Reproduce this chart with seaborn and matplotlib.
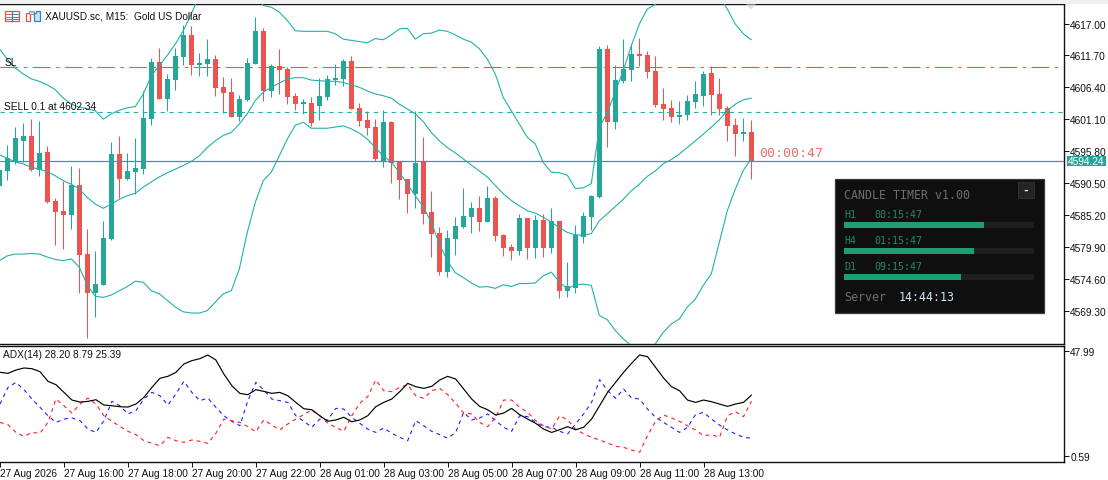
import numpy as np
import seaborn as sns
import matplotlib.pyplot as plt
from matplotlib.patches import Rectangle, Polygon

# candles, oldest first (one bar per 15 minutes)
opens = [4590.06, 4592.50, 4593.94, 4597.48, 4598.31, 4592.67, 4595.66, 4587.52, 4585.85, 4585.19,
         4590.17, 4578.71, 4572.23, 4573.56, 4581.20, 4595.32, 4591.17, 4592.33, 4592.83, 4601.14,
         4610.61, 4604.46, 4607.61, 4611.44, 4615.09, 4610.11, 4610.27, 4611.10, 4606.45, 4605.62,
         4601.47, 4604.29, 4610.27, 4615.75, 4605.79, 4609.94, 4609.44, 4604.96, 4603.63, 4603.79,
         4603.30, 4604.79, 4607.61, 4607.78, 4610.77, 4602.96, 4600.97, 4599.81, 4594.16, 4600.64,
         4593.99, 4591.17, 4588.68, 4593.99, 4585.69, 4582.20, 4575.72, 4581.20, 4583.20, 4584.86,
         4586.35, 4584.03, 4588.01, 4581.87, 4579.87, 4579.21, 4584.69, 4579.71, 4584.36, 4579.71,
         4584.19, 4572.57, 4573.06, 4581.54, 4584.86, 4588.18, 4612.76, 4600.64, 4607.45, 4609.28,
         4611.93, 4611.77, 4609.11, 4603.63, 4602.96, 4601.47, 4601.80, 4603.96, 4604.96, 4608.78,
         4605.29, 4602.96, 4600.14, 4598.65, 4598.98]
highs = [4593.94, 4596.87, 4599.75, 4600.47, 4601.14, 4600.80, 4596.65, 4587.96, 4590.89, 4593.33,
         4593.00, 4582.86, 4579.21, 4584.19, 4597.32, 4598.31, 4595.49, 4597.98, 4605.79, 4611.27,
         4612.93, 4608.61, 4612.93, 4616.75, 4616.59, 4612.10, 4614.43, 4611.77, 4608.11, 4607.95,
         4605.12, 4611.27, 4618.08, 4616.25, 4610.27, 4612.76, 4609.77, 4605.46, 4604.46, 4604.79,
         4607.95, 4608.45, 4610.27, 4611.10, 4611.60, 4603.79, 4602.47, 4601.14, 4602.63, 4600.80,
         4594.16, 4591.17, 4602.47, 4598.15, 4589.18, 4583.20, 4582.70, 4584.86, 4589.68, 4587.35,
         4588.35, 4590.01, 4588.35, 4582.03, 4580.37, 4585.36, 4584.69, 4585.19, 4585.36, 4586.35,
         4584.19, 4577.38, 4583.53, 4585.69, 4588.51, 4613.26, 4613.43, 4610.11, 4614.43, 4613.60,
         4614.59, 4612.43, 4611.60, 4606.29, 4604.29, 4604.13, 4605.12, 4607.45, 4609.11, 4609.94,
         4607.95, 4603.30, 4601.30, 4601.30, 4600.97]
lows = [4588.96, 4591.00, 4593.66, 4593.94, 4592.50, 4591.72, 4587.18, 4580.21, 4579.54, 4582.86,
        4572.23, 4564.81, 4568.25, 4573.56, 4581.04, 4588.01, 4591.00, 4588.68, 4592.00, 4600.14,
        4604.46, 4602.41, 4605.95, 4610.11, 4608.45, 4608.28, 4608.28, 4604.96, 4602.13, 4601.47,
        4600.80, 4604.13, 4610.27, 4604.13, 4604.79, 4605.29, 4603.63, 4602.63, 4601.97, 4599.97,
        4600.97, 4604.29, 4606.78, 4606.62, 4602.80, 4599.97, 4598.48, 4594.16, 4593.16, 4590.51,
        4587.85, 4585.52, 4586.35, 4583.70, 4578.21, 4575.22, 4574.89, 4578.55, 4583.03, 4582.20,
        4582.53, 4584.03, 4580.87, 4578.38, 4577.72, 4578.55, 4577.88, 4578.05, 4578.21, 4578.88,
        4571.40, 4571.57, 4572.23, 4580.54, 4582.70, 4588.01, 4596.49, 4599.48, 4607.12, 4607.45,
        4609.94, 4607.95, 4603.13, 4600.97, 4600.64, 4600.31, 4600.97, 4602.96, 4603.30, 4601.80,
        4601.80, 4597.48, 4594.99, 4597.48, 4591.17]
closes = [4592.72, 4594.60, 4597.98, 4598.31, 4592.61, 4595.49, 4587.35, 4585.69, 4585.19, 4590.17,
          4578.55, 4572.23, 4573.73, 4581.37, 4595.32, 4591.17, 4592.50, 4593.00, 4601.30, 4610.61,
          4604.46, 4607.78, 4611.60, 4615.09, 4610.11, 4610.44, 4611.10, 4606.29, 4605.46, 4601.47,
          4604.46, 4610.44, 4615.75, 4605.79, 4609.94, 4609.28, 4604.79, 4603.63, 4603.79, 4600.47,
          4604.96, 4607.78, 4607.95, 4610.77, 4602.80, 4600.80, 4599.64, 4594.49, 4600.64, 4593.83,
          4591.00, 4588.68, 4593.83, 4585.36, 4582.03, 4575.72, 4581.37, 4583.36, 4585.02, 4586.35,
          4584.03, 4588.01, 4581.70, 4579.71, 4579.21, 4584.69, 4579.71, 4584.36, 4579.71, 4584.19,
          4572.57, 4573.40, 4581.87, 4585.02, 4588.35, 4612.76, 4600.64, 4607.61, 4609.44, 4611.93,
          4611.60, 4608.94, 4603.46, 4602.80, 4601.47, 4601.80, 4604.13, 4605.29, 4608.61, 4605.12,
          4602.80, 4599.97, 4598.65, 4598.98, 4594.24]

# bollinger bands
bb_upper = [4612.8, 4611.1, 4609.6, 4608.6, 4607.8, 4607.4, 4606.8, 4606.0, 4604.6, 4603.6,
            4603.1, 4602.8, 4602.5, 4601.1, 4602.0, 4602.6, 4603.0, 4603.2, 4605.3, 4608.3,
            4610.0, 4611.7, 4613.6, 4615.8, 4618.6, 4621.6, 4622.7, 4623.6, 4624.1, 4624.4,
            4624.4, 4623.8, 4622.2, 4620.0, 4619.7, 4618.9, 4617.5, 4615.8, 4615.7, 4615.7,
            4615.7, 4615.7, 4615.3, 4614.4, 4614.2, 4614.0, 4613.8, 4614.5, 4614.3, 4615.1,
            4616.1, 4616.2, 4614.4, 4615.3, 4615.4, 4615.9, 4615.7, 4615.1, 4614.4, 4613.9,
            4612.8, 4611.1, 4608.6, 4604.7, 4602.5, 4600.3, 4598.1, 4597.0, 4593.9, 4592.3,
            4592.2, 4591.8, 4589.6, 4589.7, 4590.4, 4599.7, 4602.2, 4605.6, 4609.2, 4613.3,
            4616.9, 4619.4, 4620.2, 4621.5, 4622.3, 4623.0, 4623.5, 4623.8, 4623.6, 4623.0,
            4621.5, 4619.4, 4616.9, 4615.3, 4614.3]
bb_middle = [4595.2, 4594.6, 4594.0, 4593.7, 4593.1, 4592.8, 4592.4, 4591.7, 4590.9, 4590.3,
             4589.5, 4588.1, 4587.0, 4586.3, 4587.0, 4587.8, 4588.4, 4588.8, 4589.8, 4590.7,
             4591.5, 4592.2, 4592.8, 4593.4, 4594.1, 4595.0, 4596.4, 4597.5, 4598.4, 4598.9,
             4600.3, 4602.0, 4604.2, 4605.6, 4606.4, 4607.1, 4607.8, 4608.0, 4608.0, 4607.6,
             4607.5, 4607.4, 4607.4, 4607.2, 4606.8, 4606.4, 4605.8, 4605.3, 4605.0, 4604.6,
             4603.6, 4602.8, 4602.0, 4600.7, 4598.9, 4597.5, 4596.4, 4595.5, 4594.5, 4593.5,
             4592.5, 4591.5, 4590.1, 4588.7, 4587.6, 4586.7, 4585.9, 4585.5, 4584.8, 4584.0,
             4583.1, 4582.3, 4581.9, 4581.8, 4582.1, 4584.2, 4585.4, 4586.6, 4587.8, 4589.2,
             4590.3, 4591.6, 4592.5, 4593.7, 4594.4, 4595.3, 4596.4, 4597.5, 4598.6, 4599.8,
             4601.0, 4602.5, 4603.6, 4604.3, 4604.6]
bb_lower = [4577.6, 4578.4, 4578.7, 4578.7, 4578.8, 4578.7, 4578.2, 4577.8, 4577.6, 4577.9,
            4576.5, 4573.5, 4571.7, 4571.5, 4571.9, 4572.6, 4573.3, 4574.2, 4574.0, 4572.6,
            4572.1, 4571.0, 4569.9, 4569.1, 4568.9, 4568.9, 4569.3, 4570.7, 4572.1, 4572.6,
            4576.2, 4582.3, 4587.3, 4590.9, 4592.3, 4595.0, 4597.8, 4600.1, 4600.6, 4599.6,
            4599.6, 4599.6, 4599.8, 4600.0, 4599.5, 4598.8, 4597.8, 4596.4, 4595.0, 4594.0,
            4592.3, 4590.3, 4588.4, 4586.5, 4584.0, 4580.4, 4577.6, 4575.6, 4574.8, 4573.9,
            4573.2, 4573.3, 4573.0, 4573.6, 4573.3, 4573.8, 4573.8, 4573.9, 4575.1, 4575.7,
            4574.1, 4572.9, 4573.6, 4573.7, 4573.5, 4568.5, 4567.8, 4566.0, 4564.6, 4563.5,
            4561.8, 4562.4, 4563.8, 4565.7, 4567.1, 4567.9, 4569.9, 4571.2, 4573.5, 4575.4,
            4580.6, 4585.9, 4589.5, 4592.6, 4594.5]

# ADX(14) panel
adx_main = [38.4, 37.95, 39.45, 40.35, 40.05, 38.7, 34.35, 32.85, 29.4, 25.95,
            25.05, 25.35, 26.1, 23.7, 23.4, 22.95, 22.8, 24.15, 27.15, 31.65,
            35.7, 36.6, 38.4, 42.15, 43.65, 44.55, 46.2, 43.95, 37.65, 32.4,
            28.95, 28.35, 30.6, 29.85, 28.95, 29.4, 27.9, 24.9, 22.05, 21.6,
            18.9, 16.4, 17.0, 18.2, 16.2, 17.0, 18.9, 22.95, 24.9, 26.4,
            29.7, 33.45, 31.95, 31.2, 32.1, 34.95, 36.6, 35.4, 30.9, 26.4,
            23.1, 21.6, 19.2, 20.1, 22.2, 19.4, 17.4, 15.5, 12.9, 11.4,
            12.6, 14.0, 12.6, 13.7, 17.4, 23.4, 29.4, 33.9, 38.4, 42.45,
            46.2, 45.45, 40.65, 35.85, 31.95, 30.15, 25.95, 24.9, 25.95, 25.2,
            24.15, 23.1, 24.15, 24.9, 28.2]
di_plus = [24.15, 31.65, 33.9, 30.6, 26.4, 22.7, 18.9, 15.9, 17.4, 17.9,
           16.7, 12.9, 11.4, 16.7, 25.4, 23.4, 19.7, 21.2, 26.4, 29.4,
           27.9, 23.7, 28.7, 34.35, 29.4, 25.65, 26.85, 22.7, 18.9, 16.4,
           14.4, 25.65, 33.9, 30.45, 26.4, 25.65, 24.9, 18.9, 16.4, 13.7,
           17.4, 17.0, 22.2, 21.9, 18.2, 15.5, 12.9, 11.4, 13.4, 11.0,
           9.2, 7.7, 16.7, 14.4, 11.9, 10.4, 8.8, 11.4, 20.4, 17.0,
           17.9, 19.7, 16.7, 13.7, 11.9, 18.9, 18.5, 15.9, 14.0, 13.7,
           11.9, 10.7, 15.2, 19.7, 24.9, 35.1, 30.15, 26.7, 30.9, 26.85,
           26.4, 21.9, 18.2, 15.9, 13.7, 11.4, 13.7, 19.4, 20.4, 17.4,
           14.7, 12.5, 10.7, 9.2, 8.79]
di_minus = [15.9, 14.9, 11.4, 9.6, 11.4, 11.0, 15.9, 26.4, 23.4, 20.1,
            24.15, 26.85, 24.15, 18.9, 16.4, 14.1, 11.9, 10.4, 7.7, 6.5,
            5.45, 9.2, 7.7, 6.95, 8.0, 7.4, 6.5, 11.0, 17.4, 16.7,
            15.9, 14.0, 11.7, 17.0, 14.7, 12.5, 15.2, 17.4, 19.4, 21.5,
            18.9, 15.5, 13.7, 11.9, 18.9, 24.5, 27.5, 34.95, 30.15, 29.7,
            31.65, 32.85, 27.9, 26.7, 30.15, 31.2, 28.4, 24.5, 20.1, 19.7,
            15.9, 14.0, 18.2, 25.95, 25.95, 22.7, 20.4, 16.7, 14.4, 12.9,
            18.9, 17.0, 12.9, 10.7, 9.2, 8.0, 6.65, 5.15, 4.7, 3.5,
            2.45, 9.95, 16.4, 19.2, 17.9, 16.4, 14.4, 12.5, 9.95, 10.4,
            9.2, 18.9, 20.7, 18.5, 25.39]

price_ticks = [4617.00, 4611.70, 4606.40, 4601.10, 4595.80, 4590.50, 4585.20, 4579.90, 4574.60, 4569.30]
adx_ticks = [47.99, 0.59]
time_ticks = [0, 8, 16, 24, 32, 40, 48, 56, 64, 72, 80, 88]
time_labels = ['27 Aug 2026', '27 Aug 16:00', '27 Aug 18:00', '27 Aug 20:00', '27 Aug 22:00', '28 Aug 01:00',
               '28 Aug 03:00', '28 Aug 05:00', '28 Aug 07:00', '28 Aug 09:00', '28 Aug 11:00', '28 Aug 13:00']
last_price = 4594.24
sell_price = 4602.34
sl_price = 4609.72

timer_rows = ['H1', 'H4', 'D1']
timer_left = ['00:15:47', '01:15:47', '09:15:47']
timer_progress = [0.737, 0.684, 0.616]

UP = '#26a69a'
DOWN = '#ef5350'
BAND = '#20b2aa'
W, H = 1108, 481

sns.set_theme(style='white')
plt.rcParams['font.family'] = ['Liberation Sans', 'DejaVu Sans']
plt.rcParams['axes.linewidth'] = 1.0
plt.rcParams['axes.edgecolor'] = '#111111'

fig = plt.figure(figsize=(W / 100, H / 100), dpi=100, facecolor='white')
ax = fig.add_axes([0, 1 - 344.5 / H, 1064 / W, 339.5 / H])
ax_adx = fig.add_axes([0, 1 - 463 / H, 1064 / W, 116.5 / H])

idx = np.arange(len(closes))
opens_a, closes_a = np.array(opens), np.array(closes)
colors = np.where(closes_a >= opens_a, UP, DOWN)

ax.vlines(idx, lows, highs, colors=colors, linewidth=0.75, zorder=2)
body_h = np.maximum(np.abs(closes_a - opens_a), 0.3)
ax.bar(idx, body_h, bottom=np.minimum(opens_a, closes_a), width=0.64, color=colors, linewidth=0, zorder=3)

for band in (bb_upper, bb_middle, bb_lower):
    sns.lineplot(x=idx, y=band, ax=ax, color=BAND, linewidth=0.8, zorder=4)

ax.axhline(last_price, color=UP, linewidth=0.9, zorder=5)
ax.axhline(sell_price, color=BAND, linewidth=0.8, linestyle=(0, (4, 4)), zorder=5)
ax.axhline(sl_price, color=DOWN, linewidth=0.8, linestyle=(0, (16, 5, 3, 5)), zorder=5)

ax.set_xlim(0.0875, 133.09)
ax.set_ylim(4563.84, 4620.24)
ax.set_xticks([])
ax.yaxis.tick_right()
ax.set_yticks(price_ticks, [f'{p:.2f}' for p in price_ticks])
ax.tick_params(axis='y', length=3.5, width=0.7, pad=1, labelsize=7.3, colors='#111111', left=False, right=True)
ax.spines['left'].set_visible(False)
ax.set_xlabel('')
ax.set_ylabel('')

sns.lineplot(x=idx, y=di_plus, ax=ax_adx, color='#1f1fff', linewidth=0.8, linestyle=(0, (3.5, 3.5)))
sns.lineplot(x=idx, y=di_minus, ax=ax_adx, color='#ff1f1f', linewidth=0.8, linestyle=(0, (3.5, 3.5)))
sns.lineplot(x=idx, y=adx_main, ax=ax_adx, color='black', linewidth=0.85)
ax_adx.set_xlim(0.0875, 133.09)
ax_adx.set_ylim(-1.89, 50.46)
ax_adx.yaxis.tick_right()
ax_adx.set_yticks(adx_ticks, [f'{v:.2f}' for v in adx_ticks])
ax_adx.set_xticks(time_ticks, time_labels, ha='left')
ax_adx.tick_params(axis='y', length=3.5, width=0.7, pad=1, labelsize=7.3, colors='#111111', left=False, right=True)
ax_adx.tick_params(axis='x', length=3.5, width=0.7, pad=1, labelsize=7.3, colors='#111111', bottom=True)
ax_adx.spines['left'].set_visible(False)
ax_adx.set_xlabel('')
ax_adx.set_ylabel('')

# overlay in image pixels for the labels, the timer box and the toolbar icons
ov = fig.add_axes([0, 0, 1, 1], facecolor='none')
ov.set_xlim(0, W)
ov.set_ylim(H, 0)
ov.axis('off')

ov.add_patch(Rectangle((0, 0), W, 4.5, color='#f0f0f0', lw=0))
ov.add_patch(Polygon([[746, 5.5], [756, 5.5], [751, 10]], color='#d8d8d8', lw=0))

label = dict(fontsize=7.3, color='#111111', va='center', ha='left')
ov.text(45, 16.5, 'XAUUSD.sc, M15:  Gold US Dollar', **label)
ov.text(4.5, 62.5, 'SL', **label)
ov.text(4.5, 106.5, 'SELL 0.1 at 4602.34', **label)
ov.text(3, 355.5, 'ADX(14) 28.20 8.79 25.39', **label)

# toolbar icons
ov.add_patch(Rectangle((4.5, 12), 14, 9.5, fc='white', ec='#e0524a', lw=0.9))
ov.plot([11.5, 11.5], [12, 21.5], color='#2f7fc1', lw=0.9)
for yy in (15, 17.5, 19.5):
    ov.plot([6, 10.5], [yy, yy], color='#e0524a', lw=0.7)
    ov.plot([12.5, 17.5], [yy, yy], color='#2f7fc1', lw=0.7)
ov.add_patch(Polygon([[25.5, 14], [30, 14], [30, 21.5], [25.5, 21.5]], fc='white', ec='#e0524a', lw=0.9))
ov.add_patch(Rectangle((29, 11.5), 4.5, 3, fc='#d0d0d0', ec='#999999', lw=0.7))
ov.add_patch(Polygon([[34, 14], [36, 14], [36, 11.5], [39.5, 11.5], [39.5, 21.5], [34, 21.5]], fc='#cfe2f3', ec='#2f7fc1', lw=0.9))

# countdown and last price tag
ov.text(759, 153.5, '00:00:47', family='DejaVu Sans Mono', fontsize=9.6, color='#f2706c', va='center', ha='left')
ov.add_patch(Rectangle((1067, 156.5), 39, 10.5, color=UP, lw=0, zorder=5))
ov.text(1086.5, 161.8, f'{last_price:.2f}', fontsize=7.3, color='white', va='center', ha='center', zorder=6)

# candle timer box
mono = 'DejaVu Sans Mono'
ov.add_patch(Rectangle((834.5, 179.5), 209, 134.5, fc='#0f0f0f', ec='#3a3a3a', lw=0.9, zorder=6))
ov.text(844, 196, 'CANDLE TIMER v1.00', family=mono, fontsize=8.4, color='#6e6e6e', va='center', zorder=7)
ov.add_patch(Rectangle((1018, 183), 16, 16, fc='#242424', ec='#333333', lw=0.6, zorder=7))
ov.text(1026, 190.5, '-', family=mono, fontsize=8, weight='bold', color='#e8e8e8', va='center', ha='center', zorder=8)
for k, (row, left, prog) in enumerate(zip(timer_rows, timer_left, timer_progress)):
    top = 223 + 26 * k
    ov.text(844, top - 7.5, row, family=mono, fontsize=7.2, color='#1f8a63', va='center', zorder=7)
    ov.text(874, top - 7.5, left, family=mono, fontsize=7.2, color='#1f8a63', va='center', zorder=7)
    ov.add_patch(Rectangle((844, top), 190, 6, color='#1e1e1e', lw=0, zorder=7))
    ov.add_patch(Rectangle((844, top), 190 * prog, 6, color='#1f9e72', lw=0, zorder=8))
ov.text(844, 298, 'Server', family=mono, fontsize=8.4, color='#6e6e6e', va='center', zorder=7)
ov.text(899, 298, '14:44:13', family=mono, fontsize=8.4, color='#cfe6f5', va='center', zorder=7)

fig.savefig('out.png', dpi=100)
